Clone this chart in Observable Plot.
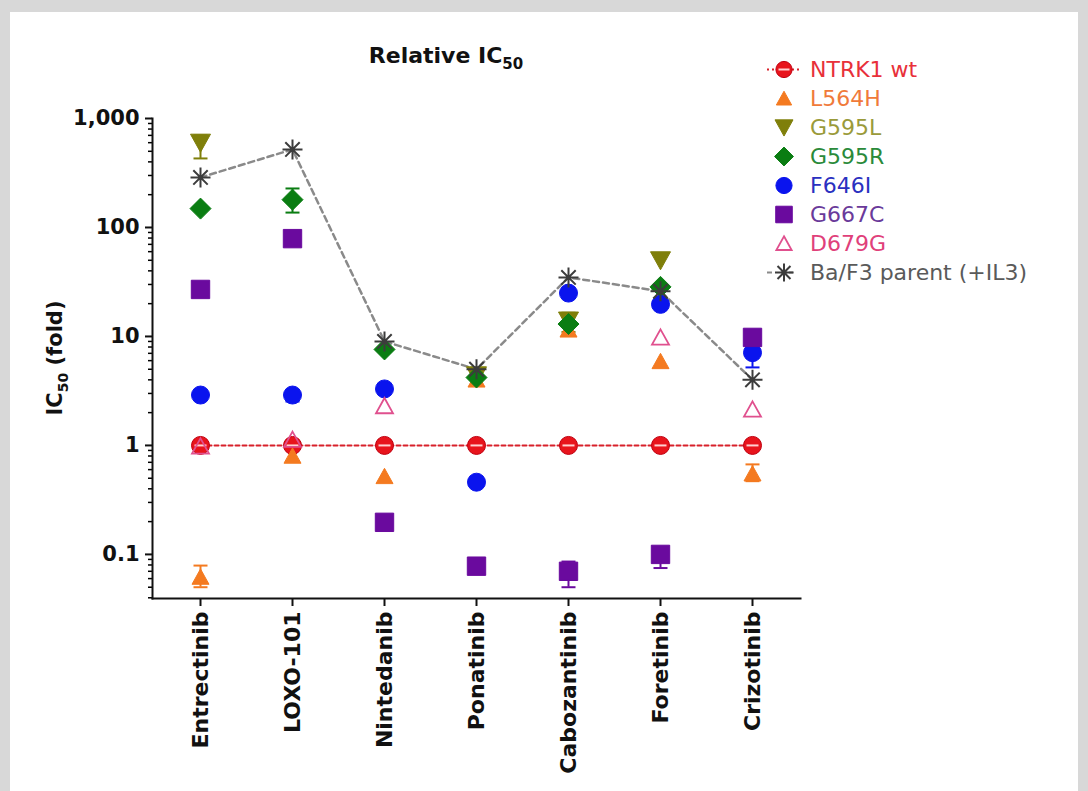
<!DOCTYPE html>
<html><head><meta charset="utf-8">
<script src="https://cdn.jsdelivr.net/npm/d3@7"></script>
<script src="https://cdn.jsdelivr.net/npm/@observablehq/plot@0.6"></script>
<style>
html,body{margin:0;padding:0;}
body{width:1088px;height:791px;background:#d8d8d8;position:relative;overflow:hidden;font-family:"DejaVu Sans",sans-serif;}
#panel{position:absolute;left:10px;top:12px;width:1068px;height:779px;background:#fff;}
#chart{position:absolute;left:0;top:0;}
#title{position:absolute;left:300px;width:272px;text-align:center;top:33px;font-weight:bold;font-size:22px;line-height:1;color:#111;}
#title sub{font-size:15px;vertical-align:-6px;line-height:0;}
#legend{position:absolute;left:0;top:0;}
.lrow{position:absolute;height:29px;line-height:29px;font-size:22px;white-space:nowrap;}
.lrow svg{position:absolute;left:-44px;top:0;}
</style></head><body>
<div id="panel"><div id="chart"></div><div id="title">Relative IC<sub>50</sub></div><div id="legend"></div></div>
<script>
// ---------- data ----------
const drugs = ["Entrectinib","LOXO-101","Nintedanib","Ponatinib","Cabozantinib","Foretinib","Crizotinib"];
const seriesNames = ["NTRK1 wt","L564H","G595L","G595R","F646I","G667C","D679G","Ba/F3 parent (+IL3)"];
const ntrk1Wt = [1, 1, 1, 1, 1, 1, 1];
const l564h   = [0.062, 0.80, 0.52, 4.0, 11.5, 5.9, 0.55];
const g595l   = [600, null, null, 4.4, 14, 50, null];
const g595r   = [149, 180, 7.6, 4.2, 13, 28.5, null];
const f646i   = [2.9, 2.9, 3.3, 0.46, 25, 19.7, 7.1];
const g667c   = [27, 79, 0.197, 0.078, 0.070, 0.10, 9.8];
const d679g   = [0.98, 1.13, 2.3, null, null, 9.8, 2.14];
const baf3    = [288, 520, 9.0, 5.0, 34.8, 26, 4.0];
// error bars
const errSeries = ["G595L","G595R","L564H","F646I","G667C","G667C","F646I","L564H","G595L"];
const errDrug   = ["Entrectinib","LOXO-101","Entrectinib","LOXO-101","Cabozantinib","Foretinib","Crizotinib","Crizotinib","Cabozantinib"];
const errLow    = [430, 137, 0.050, 2.53, 0.050, 0.075, 5.2, 0.47, 11];
const errHigh   = [700, 228, 0.079, 3.2, 0.086, 0.11, 8.0, 0.67, 16.5];
const yTicks = [0.1, 1, 10, 100, 1000];
const yDomain = [0.0394, 1000];

// ---------- symbols ----------
const R = s => Math.sqrt(s / Math.PI);
const symCircle = {draw(c, s){ const r = R(s); c.moveTo(r,0); c.arc(0,0,r,0,2*Math.PI); c.closePath(); }};
const symUp = {draw(c, s){ const r = R(s); c.moveTo(0,-0.95*r); c.lineTo(r,0.85*r); c.lineTo(-r,0.85*r); c.closePath(); }};
const symDown = {draw(c, s){ const r = R(s); c.moveTo(0,0.95*r); c.lineTo(r,-0.85*r); c.lineTo(-r,-0.85*r); c.closePath(); }};
const symDiamond = {draw(c, s){ const r = R(s); c.moveTo(0,-r); c.lineTo(r,0); c.lineTo(0,r); c.lineTo(-r,0); c.closePath(); }};
const symSquare = {draw(c, s){ const r = R(s); c.rect(-r,-r,2*r,2*r); }};
const symStar = {draw(c, s){ const r = R(s); const d = r*0.72;
  c.moveTo(-r,0); c.lineTo(r,0); c.moveTo(0,-r); c.lineTo(0,r);
  c.moveTo(-d,-d); c.lineTo(d,d); c.moveTo(-d,d); c.lineTo(d,-d); }};
const symBar = {draw(c, s){ const r = R(s); c.moveTo(-r,0); c.lineTo(r,0); }};

const defs = [
  {name: seriesNames[0], values: ntrk1Wt, sym: symCircle, r: 9, fill: "#e8141c", stroke: "#c00010", text: "#e8303a"},
  {name: seriesNames[1], values: l564h, sym: symUp, r: 8.5, fill: "#f47a20", stroke: "#f47a20", text: "#f07a3a"},
  {name: seriesNames[2], values: g595l, sym: symDown, r: 10, fill: "#7f7f0a", stroke: "#7f7f0a", text: "#9a9a3a"},
  {name: seriesNames[3], values: g595r, sym: symDiamond, r: 10.5, fill: "#0a7d12", stroke: "#0a7d12", text: "#2a8a3a"},
  {name: seriesNames[4], values: f646i, sym: symCircle, r: 9, fill: "#0a14ee", stroke: "#0a14ee", text: "#2a30c0"},
  {name: seriesNames[5], values: g667c, sym: symSquare, r: 9.2, fill: "#6a0a9e", stroke: "#6a0a9e", text: "#6a3a9a"},
  {name: seriesNames[6], values: d679g, sym: symUp, r: 8.5, fill: "none", stroke: "#e0508e", text: "#e0407a"},
  {name: seriesNames[7], values: baf3, sym: symStar, r: 10, fill: "none", stroke: "#3c3c3c", text: "#5a5a5a"}
];

const rows = [];
defs.forEach(s => s.values.forEach((v, i) => { if (v != null) rows.push({series: s.name, drug: drugs[i], value: v}); }));
const errs = errSeries.map((s, i) => ({series: s, drug: errDrug[i], lo: errLow[i], hi: errHigh[i]}));
const colorOf = Object.fromEntries(defs.map(d => [d.name, d.fill === "none" ? d.stroke : d.fill]));
const minorTicks = [];
for (let e = -2; e <= 2; e++) for (let k = 2; k <= 9; k++) { const v = k * Math.pow(10, e); if (v >= yDomain[0] && v <= yDomain[1]) minorTicks.push(v); }

const bySeries = n => rows.filter(d => d.series === n);

const marks = [
  Plot.axisY(minorTicks, {tickSize: 4, tickFormat: () => "", label: null, strokeWidth: 1.5}),
  Plot.axisY({ticks: yTicks, tickFormat: d3.format(","), tickSize: 7, tickPadding: 6, fontSize: 21, fontWeight: "bold", label: null, strokeWidth: 2, color: "#111"}),
  Plot.axisX({tickSize: 8, tickPadding: 5, tickRotate: -90, fontSize: 22, fontWeight: "bold", label: null, strokeWidth: 2, color: "#111"}),
  Plot.frame({anchor: "left", strokeWidth: 2, stroke: "#111"}),
  Plot.frame({anchor: "bottom", strokeWidth: 2, stroke: "#111"}),
  Plot.line(bySeries(seriesNames[7]), {x: "drug", y: "value", stroke: "#8a8a8a", strokeWidth: 2.5, strokeDasharray: "6,4"}),
  Plot.line(bySeries(seriesNames[0]), {x: "drug", y: "value", stroke: "#d8202a", strokeWidth: 2, strokeDasharray: "4,3"}),
  Plot.ruleX(errs, {x: "drug", y1: "lo", y2: "hi", stroke: d => colorOf[d.series], strokeWidth: 2}),
  Plot.dot(errs, {x: "drug", y: "lo", symbol: symBar, r: 7, stroke: d => colorOf[d.series], strokeWidth: 2}),
  Plot.dot(errs, {x: "drug", y: "hi", symbol: symBar, r: 7, stroke: d => colorOf[d.series], strokeWidth: 2})
];
defs.forEach((s, idx) => {
  marks.push(Plot.dot(bySeries(s.name), {x: "drug", y: "value", symbol: s.sym, r: s.r, fill: s.fill, stroke: s.stroke, strokeWidth: idx === 7 ? 2 : (idx === 6 ? 1.8 : 1)}));
  if (idx === 0) marks.push(Plot.dot(bySeries(s.name), {x: "drug", y: "value", symbol: symBar, r: 6, stroke: "#ffd0d0", strokeWidth: 2}));
});

const chart = Plot.plot({
  width: 1068, height: 779,
  marginLeft: 142, marginRight: 278, marginTop: 106, marginBottom: 193,
  style: {background: "transparent", fontFamily: "DejaVu Sans", overflow: "visible"},
  x: {type: "point", domain: drugs, padding: 0.5},
  y: {type: "log", domain: yDomain},
  marks
});
document.getElementById("chart").appendChild(chart);

// y-axis label with subscript
const yl = d3.select(chart).append("text")
  .attr("transform", "translate(52,346) rotate(-90)")
  .attr("text-anchor", "middle").attr("font-size", 21).attr("font-weight", "bold")
  .attr("font-family", "DejaVu Sans").attr("fill", "#111");
yl.append("tspan").text("IC");
yl.append("tspan").attr("font-size", 14).attr("dy", 6).text("50");
yl.append("tspan").attr("dy", -6).text(" (fold)");

// legend
const legend = d3.select("#legend");
const symPath = (sym, r) => { const p = d3.path(); sym.draw(p, Math.PI * r * r); return p.toString(); };
defs.forEach((s, i) => {
  const row = legend.append("div").attr("class", "lrow")
    .style("left", "800px").style("top", (43 + i * 29) + "px").style("color", s.text).text(s.name);
  const svg = row.append("svg").attr("width", 36).attr("height", 29).attr("viewBox", "-18 -14.5 36 29");
  if (i === 0) svg.append("line").attr("x1", -17).attr("x2", 17).attr("stroke", "#d8202a").attr("stroke-width", 2).attr("stroke-dasharray", "2,3");
  if (i === 7) svg.append("line").attr("x1", -17).attr("x2", 17).attr("stroke", "#8a8a8a").attr("stroke-width", 2).attr("stroke-dasharray", "5,17");
  svg.append("path").attr("d", symPath(s.sym, s.r * 0.9)).attr("fill", s.fill).attr("stroke", s.stroke)
    .attr("stroke-width", i === 7 ? 2 : (i === 6 ? 1.8 : 1));
  if (i === 0) svg.append("path").attr("d", symPath(symBar, 5.5)).attr("stroke", "#ffd0d0").attr("stroke-width", 2);
});
</script>
</body></html>
